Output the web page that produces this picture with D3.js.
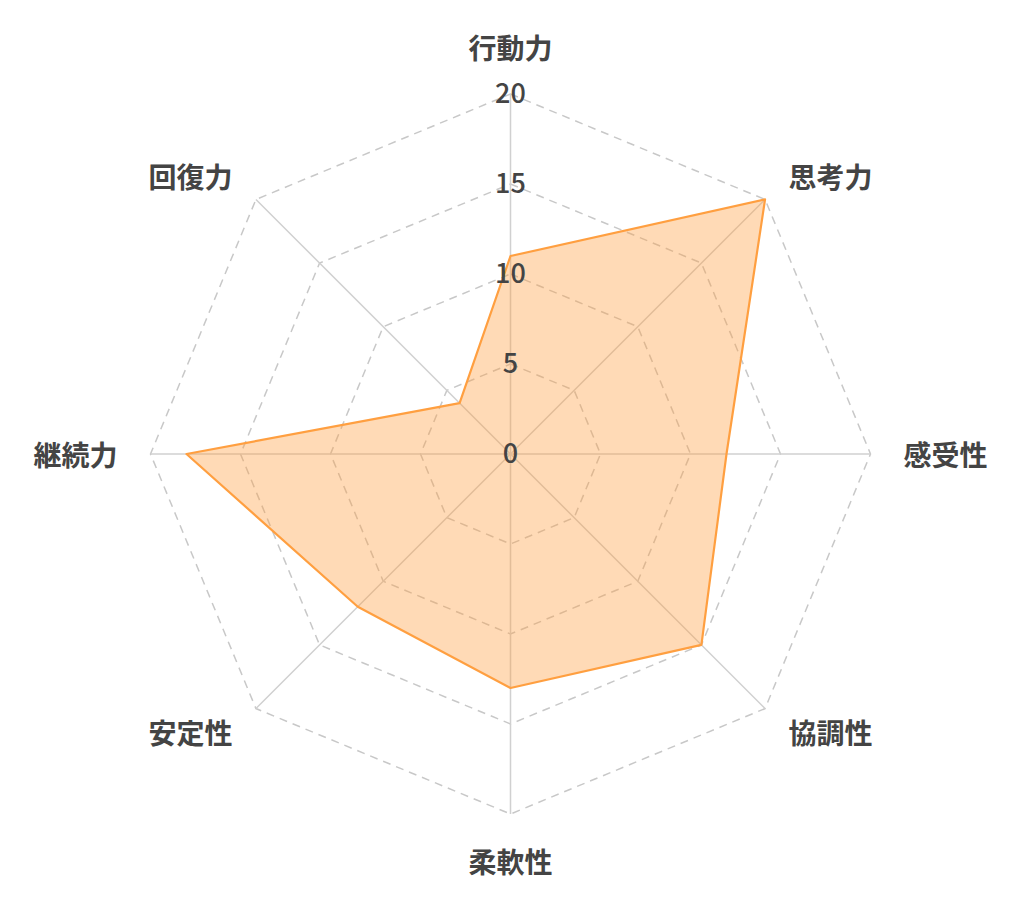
<!DOCTYPE html>
<html>
<head>
<meta charset="utf-8">
<script src="https://cdn.jsdelivr.net/npm/d3@7"></script>
<style>
  body { margin: 0; background: #fff; }
  svg { display: block; }
</style>
</head>
<body>
<script>
const width = 1024;
const height = 908;
const cx = 510.5, cy = 454;
const radius = 360;

// data
const categories = ["行動力", "思考力", "感受性", "協調性", "柔軟性", "安定性", "継続力", "回復力"];
const values = [11, 20, 12, 15, 13, 12, 18, 4];
const ticks = [0, 5, 10, 15, 20];

const fontFamily = "'Noto Sans CJK JP', 'Noto Sans', sans-serif";
const textColor = "#444";

const r = d3.scaleLinear().domain([0, 20]).range([0, radius]);
const angle = d3.scaleLinear().domain([0, categories.length]).range([0, 2 * Math.PI]);

function pt(i, v) {
    const a = angle(i);
    return [cx + r(v) * Math.sin(a), cy - r(v) * Math.cos(a)];
}

const svg = d3.select('body').append('svg')
    .attr('width', width)
    .attr('height', height);

// dashed grid rings
svg.append('g').selectAll('path')
    .data(ticks.filter(t => t > 0))
    .enter().append('path')
    .attr('d', t => d3.line()(categories.map((c, i) => pt(i, t))) + 'Z')
    .attr('fill', 'none')
    .attr('stroke', '#c8c8c8')
    .attr('stroke-width', 1.5)
    .attr('stroke-dasharray', '8,6');

// angle lines
svg.append('g').selectAll('line')
    .data(categories)
    .enter().append('line')
    .attr('x1', cx).attr('y1', cy)
    .attr('x2', (d, i) => pt(i, 20)[0])
    .attr('y2', (d, i) => pt(i, 20)[1])
    .attr('stroke', '#d0d0d0')
    .attr('stroke-width', 1.5);

// data polygon
svg.append('path')
    .datum(values)
    .attr('d', d => d3.line()(d.map((v, i) => pt(i, v))) + 'Z')
    .attr('fill', 'rgba(255,159,64,0.38)')
    .attr('stroke', 'rgb(255,159,64)')
    .attr('stroke-width', 2.2)
    .attr('stroke-linejoin', 'round');

// tick labels
svg.append('g').selectAll('text')
    .data(ticks)
    .enter().append('text')
    .attr('x', cx)
    .attr('y', t => cy - r(t) - 3)
    .attr('text-anchor', 'middle')
    .attr('dominant-baseline', 'central')
    .attr('font-family', fontFamily)
    .attr('font-size', 27)
    .attr('font-weight', 500)
    .attr('fill', textColor)
    .text(t => t);

// category labels
const labelR = 393;
svg.append('g').selectAll('text')
    .data(categories)
    .enter().append('text')
    .each(function(d, i) {
        const a = angle(i);
        const s = Math.sin(a), c = Math.cos(a);
        let x = cx + labelR * s;
        let y = cy - labelR * c;
        let anchor = 'middle';
        if (s > 0.01) anchor = 'start';
        else if (s < -0.01) anchor = 'end';
        if (Math.abs(s) < 0.01) y += c > 0 ? -14 : 14;
        d3.select(this)
            .attr('x', x)
            .attr('y', y)
            .attr('text-anchor', anchor);
    })
    .attr('dominant-baseline', 'central')
    .attr('font-family', fontFamily)
    .attr('font-size', 28)
    .attr('font-weight', 700)
    .attr('fill', textColor)
    .text(d => d);
</script>
</body>
</html>
